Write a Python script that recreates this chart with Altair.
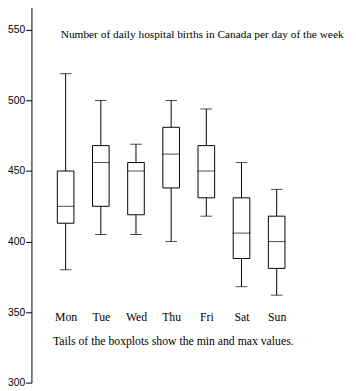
import altair as alt
import pandas as pd

days = ["Mon", "Tue", "Wed", "Thu", "Fri", "Sat", "Sun"]
mins = [380, 405, 405, 400, 418, 368, 362]
q1 = [413, 425, 419, 438, 431, 388, 381]
medians = [425, 456, 450, 462, 450, 406, 400]
q3 = [450, 468, 456, 481, 468, 431, 418]
maxs = [519, 500, 469, 500, 494, 456, 437]

title_text = "Number of daily hospital births in Canada per day of the week"
note_text = "Tails of the boxplots show the min and max values."

df = pd.DataFrame({"day": days, "min": mins, "q1": q1, "median": medians,
                   "q3": q3, "max": maxs})

yscale = alt.Scale(domain=[300, 568], nice=False, zero=False)
xscale = alt.Scale(type="point", domain=days, range=[35, 251], padding=0)

xenc = alt.X("day:N", scale=xscale, sort=days,
             axis=alt.Axis(title=None, orient="bottom", offset=-68, domain=False,
                           ticks=False, tickSize=0, labelPadding=0,
                           labelBaseline="middle", labelAngle=0,
                           labelFont="Liberation Serif", labelFontSize=12,
                           labelColor="black"))
yaxis = alt.Axis(title=None, values=[300, 350, 400, 450, 500, 550], grid=False,
                 tickSize=6, tickColor="black", domainColor="black",
                 labelFont="Liberation Sans", labelFontSize=10.5, labelColor="black",
                 labelPadding=1, domainWidth=1, tickWidth=1)

base = alt.Chart(df).encode(x=xenc)

whisk = base.mark_rule(color="black", strokeWidth=1).encode(
    y=alt.Y("min:Q", scale=yscale, axis=yaxis), y2="max:Q")
box = base.mark_bar(size=17, fill="white", stroke="black", strokeWidth=1).encode(
    y=alt.Y("q1:Q", scale=yscale), y2="q3:Q")
med = base.mark_tick(size=18, thickness=1, color="black").encode(
    y=alt.Y("median:Q", scale=yscale))
capmin = base.mark_tick(size=12, thickness=1, color="black").encode(
    y=alt.Y("min:Q", scale=yscale))
capmax = base.mark_tick(size=12, thickness=1, color="black").encode(
    y=alt.Y("max:Q", scale=yscale))

title = alt.Chart(pd.DataFrame({"t": [title_text]})).mark_text(
    align="left", baseline="middle", font="Liberation Serif", fontSize=11.6,
    color="black").encode(text="t:N", x=alt.value(30), y=alt.value(31))
note = alt.Chart(pd.DataFrame({"t": [note_text]})).mark_text(
    align="left", baseline="middle", font="Liberation Serif", fontSize=12,
    color="black").encode(text="t:N", x=alt.value(22), y=alt.value(344))

chart = alt.layer(whisk, box, med, capmin, capmax, title, note).properties(
    width=324, height=387,
    padding={"left": 24, "top": -8, "right": 0, "bottom": 0},
    autosize=alt.AutoSizeParams(type="none"),
    background="white",
).configure_view(stroke=None)

chart.save("out.html", embed_options={"renderer": "svg", "actions": False})
